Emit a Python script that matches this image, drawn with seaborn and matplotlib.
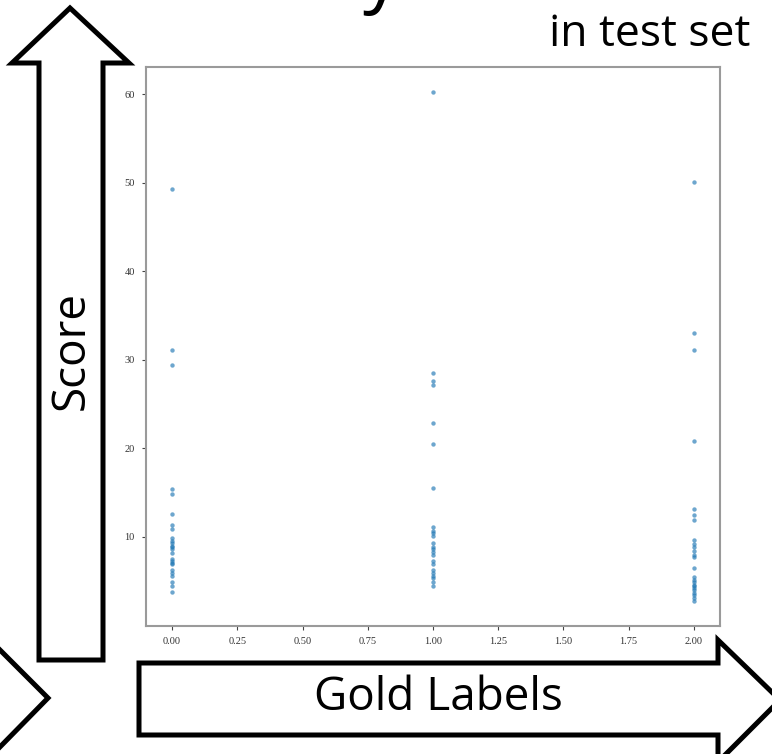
import numpy as np
import pandas as pd
import matplotlib
matplotlib.use("Agg")
import matplotlib.pyplot as plt
from matplotlib.patches import Polygon
import seaborn as sns

# scores, one list per gold label
gold_labels = [0, 1, 2]
scores_0 = [49.3, 31.1, 29.4, 15.4, 14.8, 12.6, 11.3, 10.9, 9.9, 9.5, 9.3, 9.0,
            8.8, 8.6, 8.2, 7.5, 7.3, 7.0, 6.9, 6.3, 5.9, 5.6, 4.9, 4.5, 3.8]
scores_1 = [60.2, 28.5, 27.6, 27.2, 22.9, 20.5, 15.5, 11.1, 10.7, 10.4, 10.1, 9.3,
            8.9, 8.6, 8.3, 8.0, 7.3, 6.9, 6.2, 5.9, 5.6, 5.3, 4.9, 4.5]
scores_2 = [50.1, 33.0, 31.1, 20.8, 13.2, 12.5, 11.9, 9.7, 9.2, 8.8, 8.4, 7.9,
            7.7, 6.5, 5.5, 5.1, 4.9, 4.6, 4.4, 4.2, 4.0, 3.7, 3.4, 3.1, 2.8]
x_ticks = [0.0, 0.25, 0.5, 0.75, 1.0, 1.25, 1.5, 1.75, 2.0]
y_ticks = [10, 20, 30, 40, 50, 60]

df = pd.concat([
    pd.DataFrame({"gold": lab, "score": sc})
    for lab, sc in zip(gold_labels, [scores_0, scores_1, scores_2])
])

sns.set_style("white")
plt.rcParams["font.family"] = ["Open Sans", "DejaVu Sans"]

fig = plt.figure(figsize=(7.72, 7.54), dpi=100)

# slide decoration layer in pixel coordinates
deco = fig.add_axes([0, 0, 1, 1])
deco.set_xlim(0, 772)
deco.set_ylim(754, 0)
deco.axis("off")
deco.set_zorder(0)

arrow_kw = dict(closed=True, facecolor="white", edgecolor="black", lw=3.6, joinstyle="miter")
up_arrow = [(39, 660), (39, 63), (12, 63), (70, 8), (129, 63), (103, 63), (103, 660)]
right_arrow = [(139, 663), (718, 663), (718, 640), (780, 700), (718, 762), (718, 735), (139, 735)]
left_head = [(-60, 645), (-5, 645), (48, 698), (-5, 752), (-60, 752)]
for pts in [up_arrow, right_arrow, left_head]:
    deco.add_patch(Polygon(pts, **arrow_kw))

deco.text(72, 350, "Score", rotation=90, ha="center", va="center", fontsize=33, color="black")
deco.text(438, 698, "Gold Labels", ha="center", va="center", fontsize=33, color="black")
deco.text(750, 46, "in test set", ha="right", va="baseline", fontsize=32, color="black")
# bottom of a title that runs off the top of the slide
deco.text(382, -2, "y", ha="center", va="baseline", fontsize=54, color="black")

ax = fig.add_axes([146 / 772, 1 - 626 / 754, 574 / 772, 559 / 754])
ax.set_zorder(1)
sns.scatterplot(data=df, x="gold", y="score", ax=ax, s=10, color="#1f77b4",
                alpha=0.65, linewidth=0, legend=False)
ax.set_xticks(x_ticks)
ax.set_xticklabels([f"{t:.2f}" for t in x_ticks])
ax.set_yticks(y_ticks)
ax.set_xlabel("")
ax.set_ylabel("")
for lab in ax.get_xticklabels() + ax.get_yticklabels():
    lab.set_family(["Liberation Serif", "DejaVu Serif"])
    lab.set_fontsize(7.5)
    lab.set_color("#333333")
ax.tick_params(axis="both", length=3, width=0.8, color="#444444", pad=5,
               bottom=True, left=True)
for sp in ax.spines.values():
    sp.set_color("#9a9a9a")
    sp.set_linewidth(1.5)

fig.savefig("out.png", dpi=100)
